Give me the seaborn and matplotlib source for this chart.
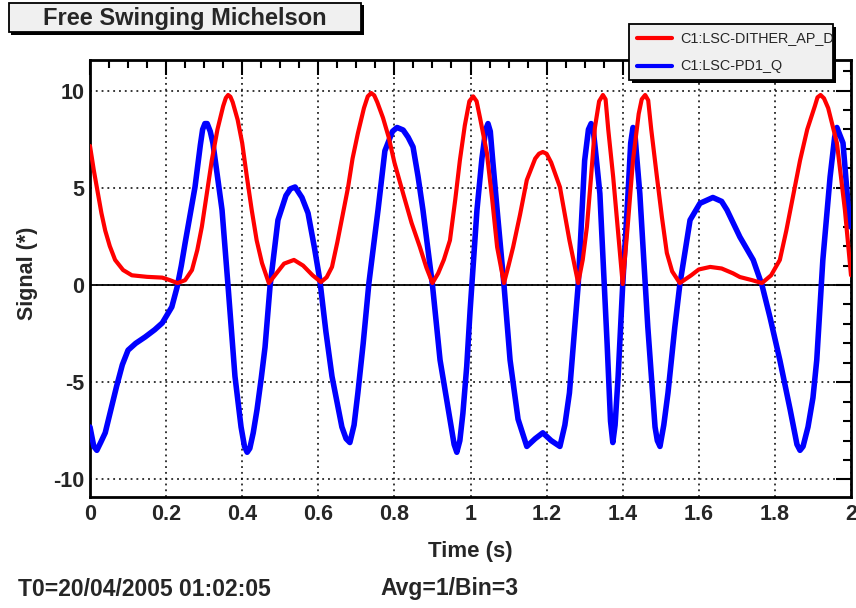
import numpy as np
import pandas as pd
import matplotlib
matplotlib.use("Agg")
import matplotlib.pyplot as plt
import seaborn as sns
from matplotlib.patches import Rectangle
from matplotlib.lines import Line2D
from matplotlib.ticker import MultipleLocator, FuncFormatter
from matplotlib.transforms import Bbox, TransformedBbox

# ---------------- data ----------------
red_t = [0.000, 0.010, 0.020, 0.030, 0.040, 0.052, 0.066, 0.087, 0.110, 0.150,
         0.190, 0.210, 0.230, 0.250, 0.268, 0.282, 0.294, 0.307, 0.320, 0.335,
         0.350, 0.357, 0.363, 0.369, 0.375, 0.388, 0.400, 0.412, 0.425, 0.438,
         0.452, 0.470,
         0.490, 0.510, 0.536, 0.560, 0.585, 0.607, 0.622, 0.636, 0.650, 0.664,
         0.678, 0.690, 0.704, 0.720, 0.730, 0.739, 0.747, 0.755, 0.770, 0.785,
         0.800, 0.823,
         0.845, 0.867, 0.884, 0.900, 0.915, 0.930, 0.946, 0.960, 0.972, 0.985,
         0.997, 1.007, 1.016, 1.025, 1.043, 1.057, 1.070, 1.088, 1.100, 1.112,
         1.130, 1.148,
         1.170, 1.180, 1.190, 1.200, 1.212, 1.235, 1.260, 1.283, 1.295, 1.306,
         1.317, 1.327,
         1.338, 1.348, 1.355, 1.362, 1.375, 1.388, 1.400, 1.413, 1.427, 1.442,
         1.450, 1.459, 1.467, 1.475,
         1.490, 1.503, 1.516, 1.530, 1.550, 1.580, 1.600, 1.630, 1.660, 1.690,
         1.708, 1.740, 1.766, 1.790, 1.813, 1.830, 1.848, 1.866, 1.885, 1.905,
         1.912, 1.920, 1.929, 1.940, 1.963, 1.984, 2.000]
red_v = [7.15, 5.9, 4.8, 3.7, 2.8, 2.0, 1.29, 0.77, 0.5, 0.42,
         0.38, 0.25, 0.10, 0.25, 0.77, 1.8, 3.0, 4.7, 6.4, 8.0,
         9.2, 9.62, 9.77, 9.68, 9.4, 8.5, 7.3, 5.6, 3.86, 2.3,
         1.13, 0.10,
         0.6, 1.1, 1.29, 1.0, 0.5, 0.15, 0.4, 0.93, 2.2, 3.6,
         5.0, 6.5, 7.8, 9.1, 9.70, 9.87, 9.75, 9.4, 8.6, 7.6,
         6.3, 4.7,
         3.2, 1.95, 0.9, 0.10, 0.6, 1.3, 2.3, 4.4, 6.4, 8.2,
         9.45, 9.7, 9.45, 8.6, 6.8, 4.4, 1.95, 0.10, 1.0, 1.95,
         3.6, 5.4,
         6.5, 6.75, 6.84, 6.75, 6.3, 5.04, 2.3, 0.10, 1.3, 3.0,
         5.6, 8.1,
         9.45, 9.77, 9.55, 8.0, 5.55, 2.7, 0.05, 3.0, 6.4, 8.8,
         9.55, 9.77, 9.5, 8.0,
         5.55, 3.5, 1.65, 0.7, 0.10, 0.5, 0.8, 0.93, 0.85, 0.6,
         0.41, 0.25, 0.10, 0.5, 1.29, 2.8, 4.6, 6.4, 8.0, 9.2,
         9.65, 9.77, 9.6, 9.1, 7.3, 3.86, 0.5]

blue_t = [0.000, 0.010, 0.018, 0.028, 0.040, 0.055, 0.070, 0.085, 0.100, 0.120,
          0.145, 0.170, 0.190, 0.215, 0.229, 0.240, 0.250, 0.263, 0.276, 0.290,
          0.296, 0.302, 0.308, 0.316, 0.323, 0.335, 0.347, 0.363, 0.381, 0.397,
          0.406, 0.413, 0.420, 0.429,
          0.439, 0.450, 0.460, 0.473, 0.494, 0.515, 0.527, 0.539, 0.557, 0.573,
          0.590,
          0.604, 0.620, 0.636, 0.662, 0.673, 0.683, 0.694, 0.704, 0.718, 0.733,
          0.757,
          0.775, 0.795, 0.807, 0.823, 0.836, 0.849, 0.862, 0.875, 0.900, 0.920,
          0.946, 0.957, 0.964, 0.972, 0.980, 0.990, 0.999, 1.017, 1.030, 1.040,
          1.046, 1.052, 1.058,
          1.070, 1.088, 1.104, 1.125, 1.148, 1.170, 1.190, 1.212, 1.235, 1.248,
          1.260, 1.283, 1.300, 1.310, 1.317, 1.323, 1.328, 1.340, 1.359, 1.368,
          1.374, 1.380, 1.388, 1.400,
          1.414, 1.421, 1.427, 1.432, 1.436, 1.445, 1.466, 1.485, 1.491, 1.498,
          1.508, 1.519, 1.537,
          1.550, 1.577, 1.603, 1.637, 1.660, 1.674, 1.708, 1.743, 1.766, 1.787,
          1.813, 1.840, 1.858, 1.866, 1.874, 1.887, 1.900, 1.910, 1.926, 1.945,
          1.957, 1.963, 1.979, 1.997]
blue_v = [-7.3, -8.3, -8.5, -8.1, -7.6, -6.4, -5.2, -4.1, -3.35, -3.0,
          -2.67, -2.3, -1.95, -1.13, -0.1, 1.0, 2.16, 3.6, 5.04, 7.2,
          8.0, 8.3, 8.3, 7.9, 7.3, 5.6, 3.86, -0.1, -4.7, -7.3,
          -8.3, -8.6, -8.4, -7.6,
          -6.4, -4.8, -3.2, -0.1, 3.34, 4.6, 4.95, 5.04, 4.5, 3.7,
          1.9,
          0.26, -2.4, -4.7, -7.3, -7.9, -8.1, -7.2, -5.55, -3.0, 0.1,
          3.86,
          6.9, 7.9, 8.1, 7.97, 7.6, 7.1, 5.6, 3.86, 0.0, -3.86,
          -6.9, -8.2, -8.6, -8.0, -6.6, -4.2, -1.3, 3.86, 6.5, 8.0,
          8.3, 7.9, 6.5,
          3.86, 0.0, -3.86, -6.9, -8.3, -7.9, -7.6, -8.0, -8.3, -7.2,
          -5.55, 0.0, 6.4, 8.0, 8.3, 7.9, 7.0, 4.7, -3.0, -7.0,
          -8.1, -7.2, -4.7, 0.0,
          4.7, 7.3, 8.1, 7.8, 6.8, 4.7, -2.16, -7.3, -8.0, -8.3,
          -7.2, -5.55, -2.16,
          0.0, 3.34, 4.2, 4.5, 4.3, 3.86, 2.47, 1.29, 0.0, -1.65,
          -3.86, -6.4, -8.2, -8.5, -8.3, -7.3, -5.8, -3.86, 1.29, 5.55,
          7.6, 8.1, 7.3, 3.0]

red_name = "C1:LSC-DITHER_AP_DC"
blue_name = "C1:LSC-PD1_Q"
title_text = "Free Swinging Michelson"
x_label = "Time (s)"
y_label = "Signal (*)"
footer_left = "T0=20/04/2005 01:02:05"
footer_right = "Avg=1/Bin=3"
x_ticks = [0, 0.2, 0.4, 0.6, 0.8, 1.0, 1.2, 1.4, 1.6, 1.8, 2.0]
y_ticks = [-10, -5, 0, 5, 10]

# ---------------- styling ----------------
sns.set_theme(style="white")
plt.rcParams["font.family"] = ["Liberation Sans", "DejaVu Sans"]
plt.rcParams["axes.unicode_minus"] = False

W, H = 856, 608
fig = plt.figure(figsize=(W / 100, H / 100), dpi=100)
fig.patch.set_facecolor("white")


def fx(px):
    return px / W


def fy(py):
    return 1 - py / H


ax = fig.add_axes([fx(90), fy(497), fx(851) - fx(90), fy(60) - fy(497)])
ax.set_facecolor("white")

red_df = pd.DataFrame({"t": red_t, "v": red_v})
blue_df = pd.DataFrame({"t": blue_t, "v": blue_v})

ax.axhline(0, color="black", lw=1.3, zorder=1.8)
sns.lineplot(data=blue_df, x="t", y="v", ax=ax, color="#0000ff", lw=4.0,
             estimator=None, sort=False, zorder=3)
sns.lineplot(data=red_df, x="t", y="v", ax=ax, color="#ff0000", lw=3.0,
             estimator=None, sort=False, zorder=4)

ax.set_xlim(0, 2)
ax.set_ylim(-10.9, 11.57)
ax.set_xticks(x_ticks)
ax.set_yticks(y_ticks)
ax.xaxis.set_major_formatter(FuncFormatter(lambda v, p: f"{v:g}"))
ax.yaxis.set_major_formatter(FuncFormatter(lambda v, p: f"{v:g}"))
ax.xaxis.set_minor_locator(MultipleLocator(0.05))
ax.yaxis.set_minor_locator(MultipleLocator(1))
ax.grid(True, which="major", color="black", lw=1.1, linestyle=(0, (1.2, 2.6)))
ax.set_axisbelow(True)
ax.tick_params(which="both", direction="in", top=True, right=True,
               color="black", width=1.5)
ax.tick_params(which="major", length=11, pad=5)
ax.tick_params(which="minor", length=6)
ax.tick_params(axis="y", which="major", pad=4)
for lab in ax.get_xticklabels() + ax.get_yticklabels():
    lab.set_fontweight("bold")
    lab.set_fontsize(15.5)
for sp in ax.spines.values():
    sp.set_color("black")
    sp.set_linewidth(2)

ax.set_xlabel(x_label, fontsize=16, fontweight="bold")
ax.set_ylabel(y_label, fontsize=15.5, fontweight="bold")
ax.xaxis.set_label_coords(0.5, (497 - 552) / 437)
ax.yaxis.set_label_coords((28 - 90) / 761, 0.513)
ax.xaxis.label.set_va("center")
ax.yaxis.label.set_va("center")

# ---------------- title box ----------------
def px_rect(x0, y0, x1, y1, **kw):
    return Rectangle((fx(x0), fy(y1)), fx(x1) - fx(x0), fy(y0) - fy(y1),
                     transform=fig.transFigure, **kw)

fig.add_artist(px_rect(11, 5, 364, 35, facecolor="black", edgecolor="none", zorder=5))
fig.add_artist(px_rect(9, 3, 361, 32, facecolor="#f0f0f0", edgecolor="black",
                       lw=1.3, zorder=6))
fig.text(fx(185), fy(18), title_text, fontsize=17, fontweight="bold",
         ha="center", va="center", zorder=7)

# ---------------- legend box ----------------
fig.add_artist(px_rect(632, 27, 836, 83, facecolor="black", edgecolor="none", zorder=5))
fig.add_artist(px_rect(629, 24, 833, 80, facecolor="#f0f0f0", edgecolor="black",
                       lw=1.3, zorder=6))
fig.add_artist(Line2D([fx(637), fx(672)], [fy(38), fy(38)], color="#ff0000",
                      lw=3.0, transform=fig.transFigure, zorder=7))
fig.add_artist(Line2D([fx(637), fx(672)], [fy(66), fy(66)], color="#0000ff",
                      lw=3.0, transform=fig.transFigure, zorder=7))
clip = TransformedBbox(Bbox.from_extents(fx(629), fy(80), fx(832), fy(24)),
                       fig.transFigure)
for name, py in [(red_name, 38), (blue_name, 66)]:
    t = fig.text(fx(680), fy(py), name, fontsize=10.4, ha="left", va="center",
                 zorder=7)
    t.set_clip_box(clip)
    t.set_clip_on(True)

# ---------------- footer ----------------
fig.text(fx(18), fy(589), footer_left, fontsize=16.5, fontweight="bold",
         ha="left", va="center")
fig.text(fx(380), fy(589), footer_right, fontsize=16.5, fontweight="bold",
         ha="left", va="center")

fig.savefig("out.png", dpi=100)
